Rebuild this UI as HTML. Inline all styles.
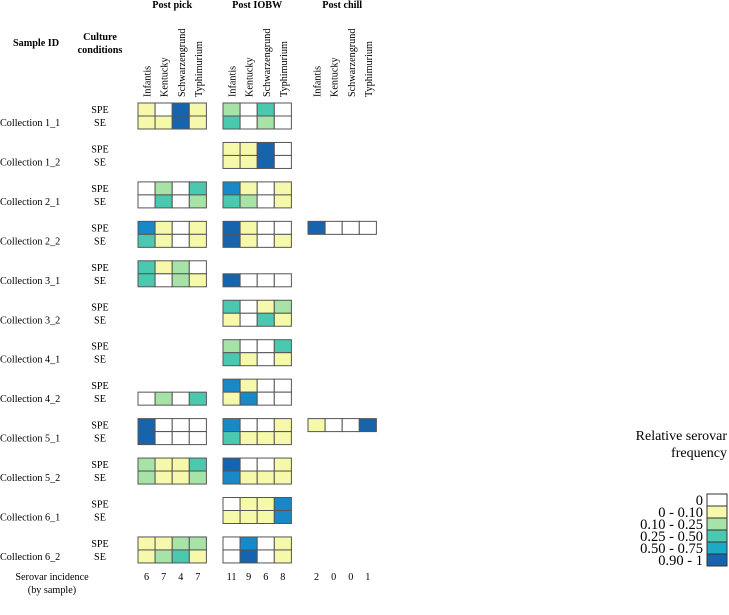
<!DOCTYPE html>
<html><head><meta charset="utf-8"><style>
body{margin:0;background:#fff}
svg{display:block}
svg text{font-family:"Liberation Serif","Times New Roman",serif}
</style></head><body>
<svg id="chart" width="729" height="615" viewBox="0 0 729 615" xmlns="http://www.w3.org/2000/svg" font-family="Liberation Serif, serif"></svg>
<script>
const groups = ["Post pick","Post IOBW","Post chill"];
const serovars = ["Infantis","Kentucky","Schwarzengrund","Typhimurium"];
const samples = ["Collection 1_1","Collection 1_2","Collection 2_1","Collection 2_2","Collection 3_1","Collection 3_2","Collection 4_1","Collection 4_2","Collection 5_1","Collection 5_2","Collection 6_1","Collection 6_2"];
const conditions = ["SPE","SE"];
// levels: 0=0, 1=0-0.10, 2=0.10-0.25, 3=0.25-0.50, 4=cyan, 5=0.50-0.75, 6=0.90-1 ; null = not detected
const postPick = [
 [[1,0,6,1],[1,1,6,1]], [null,null], [[0,2,0,3],[0,3,0,2]], [[5,1,0,1],[3,1,0,1]],
 [[3,1,2,0],[3,0,2,1]], [null,null], [null,null], [null,[0,2,0,3]],
 [[6,0,0,0],[6,0,0,0]], [[2,1,1,3],[2,1,1,2]], [null,null], [[1,1,2,2],[1,2,3,1]]
];
const postIOBW = [
 [[2,0,3,0],[3,0,2,0]], [[1,1,6,0],[1,1,6,0]], [[5,1,0,1],[3,2,0,1]], [[6,1,0,0],[6,1,0,1]],
 [null,[6,0,0,0]], [[3,0,1,2],[1,0,3,1]], [[2,0,0,3],[3,1,0,1]], [[5,1,0,0],[1,5,0,0]],
 [[5,0,0,1],[3,1,1,1]], [[6,0,0,1],[5,1,1,1]], [[0,1,1,5],[1,1,1,5]], [[0,5,0,1],[0,6,0,1]]
];
const postChill = [
 [null,null],[null,null],[null,null],[[6,0,0,0],null],
 [null,null],[null,null],[null,null],[null,null],
 [[1,0,0,6],null],[null,null],[null,null],[null,null]
];
const incidence = [[6,7,4,7],[11,9,6,8],[2,0,0,1]];
const legendLabels = ["0","0 - 0.10","0.10 - 0.25","0.25 - 0.50","0.50 - 0.75","0.90 - 1"];
const palette = ["#ffffff","#f6f9a9","#a7e2a6","#4bc9b0","#1ea9c6","#1889c6","#1564ad"];
const legendColors = [palette[0],palette[1],palette[2],palette[3],palette[4],palette[6]];

const svg = document.getElementById('chart');
const NS = "http://www.w3.org/2000/svg";
function mk(tag, attrs, text){const e=document.createElementNS(NS,tag);for(const k in attrs)e.setAttribute(k,attrs[k]);if(tag==='text')e.setAttribute('font-family','Liberation Serif, serif');if(text!==undefined)e.textContent=text;svg.appendChild(e);return e;}
const cw=17.1, ch=13, x0=138, gstep=85, y0=103, pstep=39.45;
const gx = g => x0 + g*gstep;
const py = (s,c) => y0 + s*pstep + c*ch;
const fs = 10.2;

let t;
t=mk('text',{x:13,y:46,'font-size':fs,'font-weight':'bold'},'Sample ID');

t=mk('text',{x:100,y:40,'font-size':fs,'font-weight':'bold','text-anchor':'middle'},'Culture');

t=mk('text',{x:100,y:53,'font-size':fs,'font-weight':'bold','text-anchor':'middle'},'conditions');


const allData=[postPick,postIOBW,postChill];
groups.forEach((g,gi)=>{
  t=mk('text',{x:gx(gi)+2*cw,y:8,'font-size':fs,'font-weight':'bold','text-anchor':'middle'},g);
  
  serovars.forEach((sv,si)=>{
    const cx=gx(gi)+si*cw+cw/2+4;
    t=mk('text',{x:cx,y:97,'font-size':fs,transform:`rotate(-90 ${cx} 97)`},sv);
    
    t=mk('text',{x:gx(gi)+si*cw+cw/2,y:580,'font-size':fs,'text-anchor':'middle'},incidence[gi][si]);
    
  });
  allData[gi].forEach((pair,s)=>{
    pair.forEach((row,c)=>{
      if(!row) return;
      row.forEach((v,si)=>{
        const r=mk('rect',{x:gx(gi)+si*cw,y:py(s,c),width:cw,height:ch,fill:palette[v],stroke:'#555','stroke-width':1});
        
        
      });
    });
  });
});
samples.forEach((s,i)=>{
  t=mk('text',{x:0,y:py(i,1)+10,'font-size':fs},s);
  
  conditions.forEach((c,ci)=>{
    t=mk('text',{x:100,y:py(i,ci)+10,'font-size':fs,'text-anchor':'middle'},c);
    
  });
});
t=mk('text',{x:52,y:580,'font-size':fs,'text-anchor':'middle'},'Serovar incidence');

t=mk('text',{x:52,y:593,'font-size':fs,'text-anchor':'middle'},'(by sample)');


t=mk('text',{x:727,y:440,'font-size':14,'text-anchor':'end'},'Relative serovar');

t=mk('text',{x:727,y:457,'font-size':14,'text-anchor':'end'},'frequency');

legendLabels.forEach((l,i)=>{
  const r=mk('rect',{x:707,y:494+i*12,width:20,height:12,fill:legendColors[i],stroke:'#333','stroke-width':1});
  
  
  t=mk('text',{x:703,y:505+i*12,'font-size':14.5,'text-anchor':'end'},l);
  
});
</script>
</body></html>
